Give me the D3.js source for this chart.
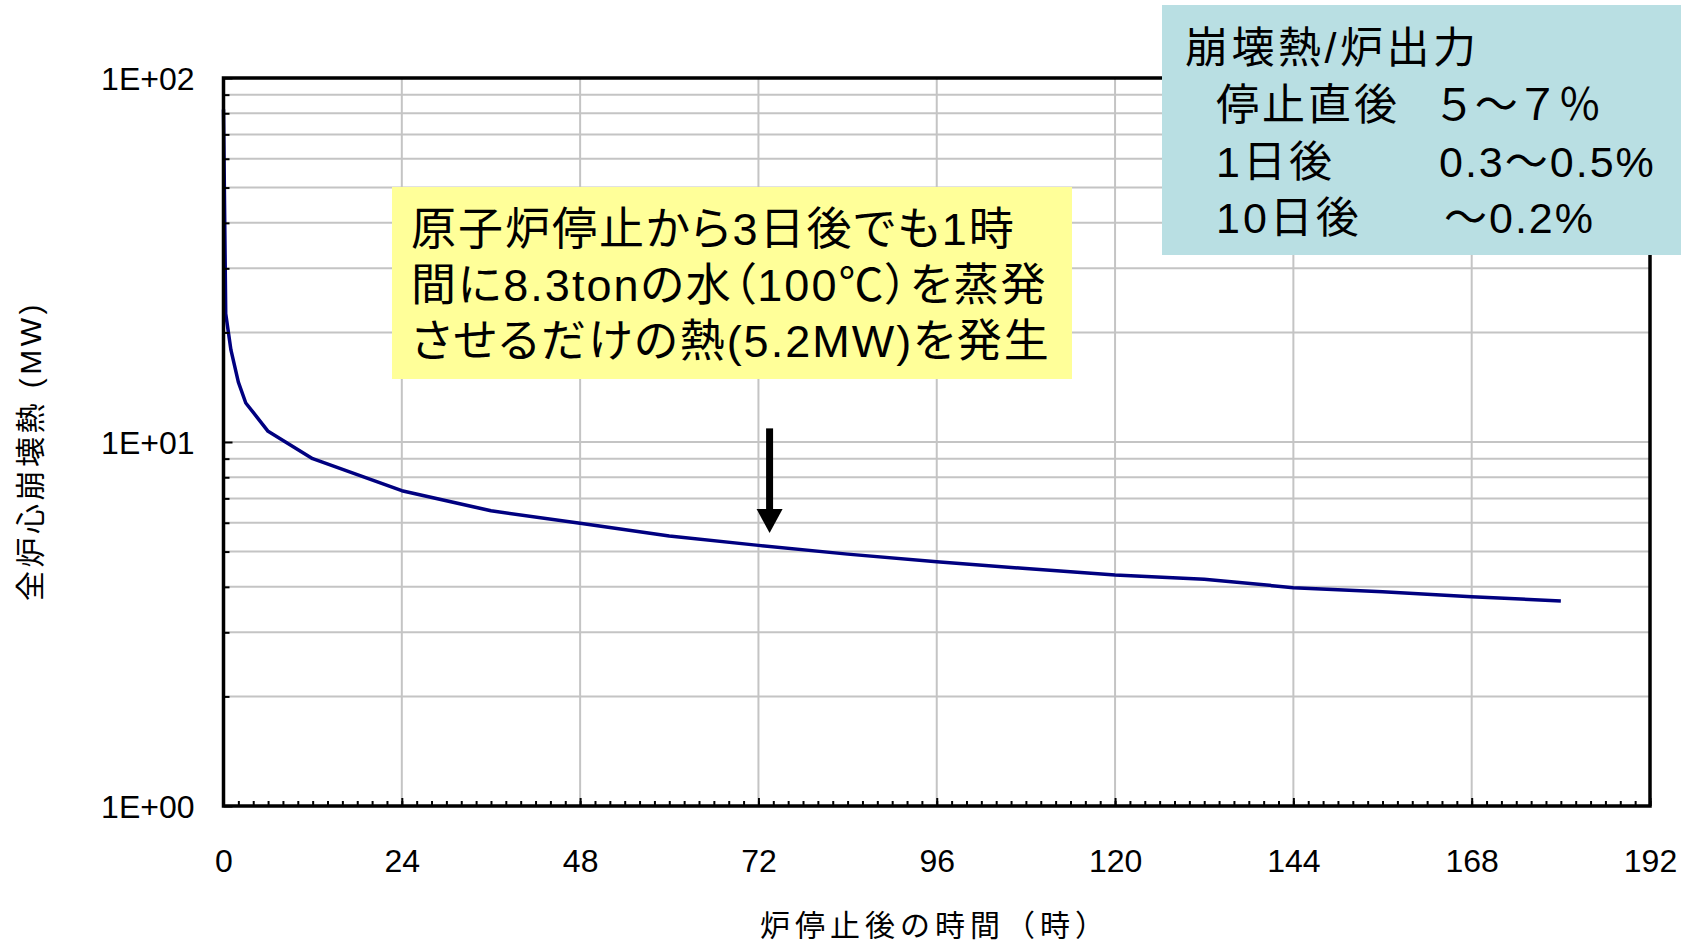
<!DOCTYPE html>
<html>
<head>
<meta charset="utf-8">
<script src="https://cdn.jsdelivr.net/npm/d3@7"></script>
<style>
  body { margin: 0; background: #fff; }
  svg { display: block; font-family: "Liberation Sans", Arial, "Noto Sans CJK JP", sans-serif; }
  .jp { font-feature-settings: "palt"; }
</style>
</head>
<body>
<div id="chart"></div>
<script>
// decay heat after shutdown
const hours = [0, 0.3, 1, 2, 3, 6, 12, 24, 36, 48, 60, 72, 84, 96, 108, 120, 132, 144, 156, 168, 180];
const decayMW = [82, 22.5, 17.9, 14.6, 12.8, 10.7, 9.0, 7.35, 6.47, 5.98, 5.52, 5.2, 4.92, 4.69, 4.49, 4.31, 4.2, 3.98, 3.88, 3.76, 3.66];

const xTicks = [0, 24, 48, 72, 96, 120, 144, 168, 192];
const yTicks = [1, 10, 100];
const yTickLabels = ['1E+00', '1E+01', '1E+02'];

const noteLines = ['原子炉停止から3日後でも1時', '間に8.3tonの水（100℃）を蒸発', 'させるだけの熱(5.2MW)を発生'];
const legendTitle = '崩壊熱/炉出力';
const legendRows = ['停止直後', '1日後', '10日後'];
const legendValues = ['５～７％', '0.3～0.5%', '～0.2%'];

const arrowHour = 73.5;
const arrowFromTo = [10.9, 5.62];

const W = 1693, H = 944;
const m = { left: 223.5, right: 1650, top: 78, bottom: 806 };

const svg = d3.select('#chart').append('svg')
  .attr('width', W)
  .attr('height', H);

const x = d3.scaleLinear().domain([0, 192]).range([m.left, m.right]);
const y = d3.scaleLog().domain([1, 100]).range([m.bottom, m.top]);

// minor log values 2..9, 20..90
const minorY = [];
[1, 10].forEach(d => { for (let k = 2; k <= 9; k++) minorY.push(d * k); });
const minorX = d3.range(0, 193, 2);

// grid
const grid = svg.append('g').attr('stroke', '#c4c4c4').attr('stroke-width', 2);
grid.selectAll('.hy')
  .data(minorY.concat([10]))
  .join('line')
  .attr('x1', m.left).attr('x2', m.right)
  .attr('y1', d => y(d)).attr('y2', d => y(d));
grid.selectAll('.vx')
  .data(xTicks.slice(1, -1))
  .join('line')
  .attr('x1', d => x(d)).attr('x2', d => x(d))
  .attr('y1', m.top).attr('y2', m.bottom);

// curve
const line = d3.line()
  .x((d, i) => x(hours[i]))
  .y(d => y(d));

svg.append('path')
  .datum(decayMW)
  .attr('d', line)
  .attr('fill', 'none')
  .attr('stroke', '#000080')
  .attr('stroke-width', 3.5)
  .attr('stroke-linejoin', 'round');

// axes, ticks inside
const yMinor = svg.append('g')
  .attr('transform', `translate(${m.left},0)`)
  .call(d3.axisLeft(y).tickValues(minorY).tickSize(-6).tickFormat(''));
const yMajor = svg.append('g')
  .attr('transform', `translate(${m.left},0)`)
  .call(d3.axisLeft(y).tickValues(yTicks).tickSize(-9).tickPadding(29)
    .tickFormat((d, i) => yTickLabels[i]));
const xMinor = svg.append('g')
  .attr('transform', `translate(0,${m.bottom})`)
  .call(d3.axisBottom(x).tickValues(minorX).tickSize(-5).tickFormat(''));
const xMajor = svg.append('g')
  .attr('transform', `translate(0,${m.bottom})`)
  .call(d3.axisBottom(x).tickValues(xTicks).tickSize(-8).tickPadding(43));

[yMinor, yMajor, xMinor, xMajor].forEach(g => {
  g.select('.domain').remove();
  g.selectAll('.tick line').attr('stroke', '#000').attr('stroke-width', 2);
  g.selectAll('text').attr('font-size', 32).attr('fill', '#000')
    .attr('font-family', '"Liberation Sans", Arial, sans-serif');
});
yMajor.selectAll('text').attr('dy', '0.35em');
xMajor.selectAll('text').attr('dy', '0.71em');

// frame
svg.append('rect')
  .attr('x', m.left).attr('y', m.top)
  .attr('width', m.right - m.left).attr('height', m.bottom - m.top)
  .attr('fill', 'none')
  .attr('stroke', '#000')
  .attr('stroke-width', 3.5);

// axis titles
svg.append('text')
  .attr('x', 935).attr('y', 936)
  .attr('text-anchor', 'middle')
  .attr('font-size', 30)
  .attr('letter-spacing', 5)
  .text('炉停止後の時間（時）');

svg.append('text')
  .attr('class', 'jp')
  .attr('transform', 'translate(41,451) rotate(-90)')
  .attr('text-anchor', 'middle')
  .attr('font-size', 30)
  .attr('letter-spacing', 3.5)
  .text('全炉心崩壊熱 (MW)');

// annotation box
svg.append('rect')
  .attr('x', 392).attr('y', 187)
  .attr('width', 680).attr('height', 192)
  .attr('fill', '#ffff99');

svg.append('g')
  .selectAll('text')
  .data(noteLines)
  .join('text')
  .attr('class', 'jp')
  .attr('x', 411)
  .attr('y', (d, i) => 245 + i * 56)
  .attr('font-size', 45)
  .attr('letter-spacing', 2)
  .text(d => d);

// arrow
const ax = x(arrowHour);
svg.append('line')
  .attr('x1', ax).attr('x2', ax)
  .attr('y1', y(arrowFromTo[0])).attr('y2', y(arrowFromTo[1]) - 20)
  .attr('stroke', '#000')
  .attr('stroke-width', 7);
svg.append('path')
  .attr('d', `M${ax - 13},${y(arrowFromTo[1]) - 24} L${ax + 13},${y(arrowFromTo[1]) - 24} L${ax},${y(arrowFromTo[1])} Z`)
  .attr('fill', '#000');

// legend box
svg.append('rect')
  .attr('x', 1162).attr('y', 5)
  .attr('width', 519).attr('height', 250)
  .attr('fill', '#b9dfe3');

svg.append('text')
  .attr('class', 'jp')
  .attr('x', 1185).attr('y', 63)
  .attr('font-size', 43)
  .attr('letter-spacing', 3.5)
  .text(legendTitle);

const legendValueX = [1438, 1439, 1444];
svg.append('g')
  .selectAll('text')
  .data(legendRows)
  .join('text')
  .attr('class', 'jp')
  .attr('x', 1216)
  .attr('y', (d, i) => 120 + i * 56.5)
  .attr('font-size', 43)
  .attr('letter-spacing', 3)
  .text(d => d);

svg.append('g')
  .selectAll('text')
  .data(legendValues)
  .join('text')
  .attr('class', 'jp')
  .attr('x', (d, i) => legendValueX[i])
  .attr('y', (d, i) => 120 + i * 56.5)
  .attr('font-size', 43)
  .attr('letter-spacing', (d, i) => i === 0 ? 4 : 2)
  .text(d => d);
</script>
</body>
</html>
